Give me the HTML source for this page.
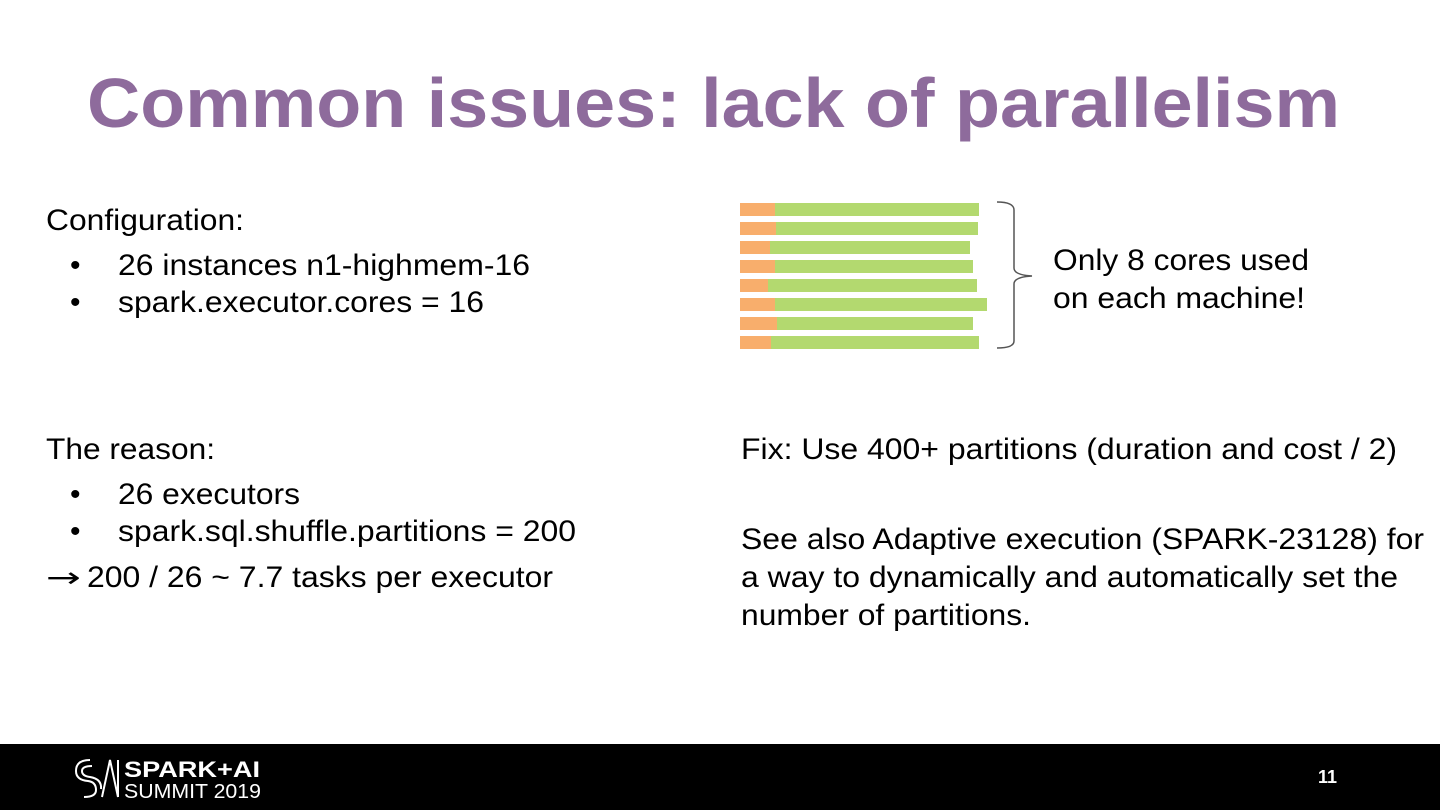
<!DOCTYPE html>
<html><head><meta charset="utf-8"><style>
html,body{margin:0;padding:0;background:#fff;}
svg{display:block}
text{font-family:"Liberation Sans",Arial,sans-serif;}
</style></head><body>
<svg width="1440" height="810" viewBox="0 0 1440 810" xmlns="http://www.w3.org/2000/svg">
<rect width="1440" height="810" fill="#fff"/>
<text x="87" y="127" font-size="70" font-weight="bold" fill="#8e6b9c" textLength="1253" lengthAdjust="spacingAndGlyphs">Common issues: lack of parallelism</text>
<g font-size="30" fill="#000">
<text x="46" y="230" textLength="198" lengthAdjust="spacingAndGlyphs">Configuration:</text>
<text x="70" y="275">•</text><text x="118" y="275" textLength="412" lengthAdjust="spacingAndGlyphs">26 instances n1-highmem-16</text>
<text x="70" y="312">•</text><text x="118" y="312" textLength="366" lengthAdjust="spacingAndGlyphs">spark.executor.cores = 16</text>
<text x="46" y="459" textLength="169" lengthAdjust="spacingAndGlyphs">The reason:</text>
<text x="70" y="504">•</text><text x="118" y="504" textLength="182" lengthAdjust="spacingAndGlyphs">26 executors</text>
<text x="70" y="541">•</text><text x="118" y="541" textLength="458" lengthAdjust="spacingAndGlyphs">spark.sql.shuffle.partitions = 200</text>
<text x="46" y="587" style="font-family:'DejaVu Sans',sans-serif" font-size="28" textLength="35" lengthAdjust="spacingAndGlyphs">→</text>
<text x="87" y="587" textLength="466" lengthAdjust="spacingAndGlyphs">200 / 26 ~ 7.7 tasks per executor</text>
<text x="741" y="459" textLength="656" lengthAdjust="spacingAndGlyphs">Fix: Use 400+ partitions (duration and cost / 2)</text>
<text x="741" y="549" textLength="683" lengthAdjust="spacingAndGlyphs">See also Adaptive execution (SPARK-23128) for</text>
<text x="741" y="587" textLength="657" lengthAdjust="spacingAndGlyphs">a way to dynamically and automatically set the</text>
<text x="741" y="625" textLength="290" lengthAdjust="spacingAndGlyphs">number of partitions.</text>
<text x="1053" y="270" textLength="256" lengthAdjust="spacingAndGlyphs">Only 8 cores used</text>
<text x="1053" y="308" textLength="252" lengthAdjust="spacingAndGlyphs">on each machine!</text>
</g>
<g>
<rect x="740" y="203" width="239" height="13" fill="#b3d96f"/><rect x="740" y="203" width="35" height="13" fill="#f8ae6c"/>
<rect x="740" y="222" width="238" height="13" fill="#b3d96f"/><rect x="740" y="222" width="36" height="13" fill="#f8ae6c"/>
<rect x="740" y="241" width="230" height="13" fill="#b3d96f"/><rect x="740" y="241" width="30" height="13" fill="#f8ae6c"/>
<rect x="740" y="260" width="233" height="13" fill="#b3d96f"/><rect x="740" y="260" width="35" height="13" fill="#f8ae6c"/>
<rect x="740" y="279" width="237" height="13" fill="#b3d96f"/><rect x="740" y="279" width="28" height="13" fill="#f8ae6c"/>
<rect x="740" y="298" width="247" height="13" fill="#b3d96f"/><rect x="740" y="298" width="35" height="13" fill="#f8ae6c"/>
<rect x="740" y="317" width="233" height="13" fill="#b3d96f"/><rect x="740" y="317" width="37" height="13" fill="#f8ae6c"/>
<rect x="740" y="336" width="239" height="13" fill="#b3d96f"/><rect x="740" y="336" width="31" height="13" fill="#f8ae6c"/>
</g>
<path d="M997 202 Q1014 202 1014 210 L1014 268 Q1014 275 1032 276 Q1014 277 1014 284 L1014 341 Q1014 348 997 348" fill="none" stroke="#555" stroke-width="1.5"/>
<rect x="0" y="744" width="1440" height="66" fill="#000"/>
<g fill="none" stroke="#fff" stroke-width="2">
<path d="M90 760 Q76 760 76 771 Q76 780 88 781 Q96 782 96 790 Q96 797 84 797"/>
<path d="M92 766 Q82 766 82 771 Q82 776 90 777 Q102 779 101 789"/>
<path d="M102 797 L110 760 L118 797 M118 760 L118 797"/>
</g>
<text x="124" y="777" font-size="22" font-weight="bold" fill="#fff" textLength="136" lengthAdjust="spacingAndGlyphs">SPARK+AI</text>
<text x="124" y="798" font-size="20" fill="#fff" textLength="137" lengthAdjust="spacingAndGlyphs">SUMMIT 2019</text>
<text x="1318" y="783" font-size="18" font-weight="bold" fill="#fff">11</text>
</svg>
</body></html>
